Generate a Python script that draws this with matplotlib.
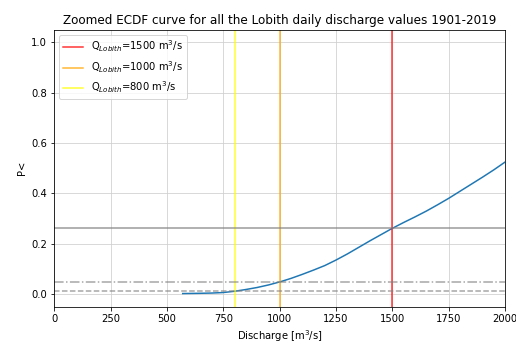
import numpy as np
import matplotlib.pyplot as plt

# ECDF values
discharge = [570, 650, 700, 750, 800, 850, 900, 950, 1000, 1050, 1100, 1150, 1200,
             1250, 1300, 1350, 1400, 1450, 1500, 1550, 1600, 1650, 1700, 1750,
             1800, 1850, 1900, 1950, 2000]
p_less = [0.003, 0.004, 0.005, 0.007, 0.012, 0.019, 0.027, 0.037, 0.049, 0.063,
          0.079, 0.096, 0.114, 0.136, 0.16, 0.186, 0.212, 0.237, 0.262, 0.285,
          0.307, 0.33, 0.355, 0.381, 0.409, 0.437, 0.465, 0.494, 0.525]

thresholds = [1500, 1000, 800]
threshold_colors = ['red', 'orange', 'yellow']
p_at_threshold = [0.262, 0.049, 0.012]
h_styles = ['-', '-.', '--']

fig = plt.figure(figsize=(516 / 72, 341 / 72), dpi=72)
ax = plt.gca()

ax.plot(discharge, p_less, color='tab:blue', lw=1.5)

for q, c in zip(thresholds, threshold_colors):
    ax.axvline(q, color=c, alpha=0.8, lw=1.5,
               label=r'Q$_{Lobith}$=' + f'{q}' + r' m$^3$/s')

for p, ls in zip(p_at_threshold, h_styles):
    ax.axhline(p, color='grey', ls=ls, lw=1.5, alpha=0.8 if ls == '-' else 0.7)

ax.set_xlim(0, 2000)
ax.set_ylim(-0.05, 1.05)
ax.set_xticks(np.arange(0, 2001, 250))
ax.set_yticks(np.arange(0, 1.01, 0.2))
ax.grid(True, color='#d0d0d0')
ax.set_axisbelow(True)
ax.set_title('Zoomed ECDF curve for all the Lobith daily discharge values 1901-2019')
ax.set_xlabel(r'Discharge [m$^3$/s]')
ax.set_ylabel('P<')
ax.legend(loc='upper left')

plt.subplots_adjust(left=0.105, right=0.979, top=0.913, bottom=0.1)
plt.savefig('out.png', dpi=72)
